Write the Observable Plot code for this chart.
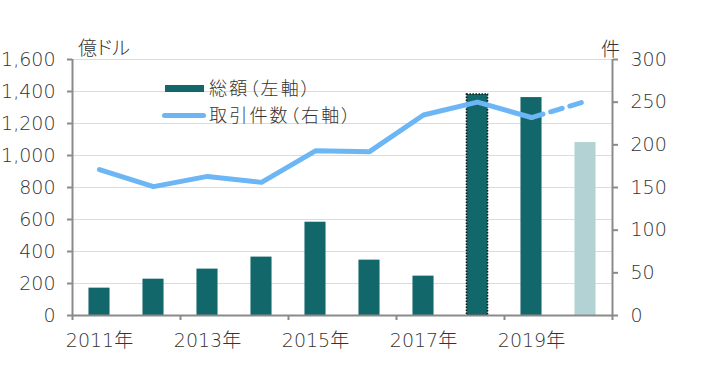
<!DOCTYPE html>
<html><head><meta charset="utf-8">
<script src="https://cdn.jsdelivr.net/npm/d3@7"></script>
<script src="https://cdn.jsdelivr.net/npm/@observablehq/plot@0.6"></script>
<style>
body{margin:0;background:#fff;}
#wrap{position:relative;width:722px;height:369px;font-family:"Noto Sans CJK JP","Noto Sans",sans-serif;color:#333;}
.lbl{position:absolute;font-size:19px;line-height:19px;white-space:nowrap;font-weight:300;font-feature-settings:"palt";}
.leg{position:absolute;font-size:18px;line-height:18px;white-space:nowrap;font-weight:300;font-feature-settings:"palt";letter-spacing:2.2px;}
.sw{position:absolute;}
</style></head><body><div id="wrap"></div>
<script>
const years = [2011, 2012, 2013, 2014, 2015, 2016, 2017, 2018, 2019, 2020];
const totals = [171, 227, 290, 365, 583, 346, 246, 1381, 1362, 1081];
const deals = [171, 151, 163, 156, 193, 192, 235, 250, 232, 251];
const leftTicks = [0, 200, 400, 600, 800, 1000, 1200, 1400, 1600];
const rightTicks = [0, 50, 100, 150, 200, 250, 300];
const labelYears = [2011, 2013, 2015, 2017, 2019];
const boundaryYears = [2010.5, 2012.5, 2014.5, 2016.5, 2018.5, 2020.5];
const highlightYear = 2018;   // dotted outline
const estimateYear = 2020;    // light bar, dashed line segment

const teal = "#12676b", light = "#b3d2d4", blue = "#6cb6f6", axisGray = "#8a8a8a";
const k = 1600 / 300;
const data = years.map((year, i) => ({year, total: totals[i], deals: deals[i]}));
const solid = data.filter(d => d.year < estimateYear);
const dashed = data.filter(d => d.year >= estimateYear - 1);
const fontFam = '"DejaVu Sans","Noto Sans CJK JP",sans-serif';

const chart = Plot.plot({
  width: 722, height: 369,
  marginLeft: 72, marginRight: 110, marginTop: 59, marginBottom: 54,
  style: {fontFamily: fontFam, fontSize: "19px", color: "#333", background: "transparent", fontWeight: 300},
  x: {domain: [2010.5, 2020.5]},
  y: {domain: [0, 1600]},
  marks: [
    Plot.gridY(leftTicks, {stroke: "#dcdcdc", strokeOpacity: 1, strokeWidth: 1}),
    Plot.rectY(data, {x1: d => d.year - 0.195, x2: d => d.year + 0.195, y: "total",
      fill: d => d.year === estimateYear ? light : teal}),
    Plot.rectY(data.filter(d => d.year === highlightYear), {x1: d => d.year - 0.195, x2: d => d.year + 0.195, y: "total",
      fill: "none", stroke: "#111", strokeWidth: 1.5, strokeDasharray: "1.5,1.5"}),
    Plot.line(solid, {x: "year", y: d => d.deals * k, stroke: blue, strokeWidth: 5, strokeLinejoin: "round"}),
    Plot.line(dashed, {x: "year", y: d => d.deals * k, stroke: blue, strokeWidth: 5, strokeDasharray: "12,8", strokeLinecap: "round"}),
    Plot.ruleY([0], {stroke: axisGray, strokeWidth: 2}),
    Plot.ruleX([boundaryYears[0], boundaryYears[boundaryYears.length - 1]], {stroke: axisGray, strokeWidth: 2}),
    Plot.axisY({ticks: leftTicks, tickFormat: d3.format(","), tickSize: 5, tickPadding: 12, stroke: axisGray, strokeWidth: 2, fill: "#333", label: null}),
    Plot.axisY({anchor: "right", ticks: rightTicks.map(v => v * k), tickFormat: v => String(Math.round(v / k)), tickSize: 5, tickPadding: 13, stroke: axisGray, strokeWidth: 2, fill: "#333", label: null}),
    Plot.axisX({ticks: boundaryYears, tickFormat: () => "", tickSize: 5, stroke: axisGray, strokeWidth: 2, label: null}),
    Plot.axisX({ticks: labelYears, tickSize: 0, tickPadding: 18, tickFormat: d => d + "年", fill: "#333", label: null})
  ]
});
const wrap = document.getElementById("wrap");
wrap.appendChild(chart);

function addLabel(text, left, top, cls) {
  const el = document.createElement("div");
  el.className = cls; el.textContent = text;
  el.style.left = left + "px"; el.style.top = top + "px";
  wrap.appendChild(el);
}
function addSwatch(left, top, w, h, color, radius) {
  const el = document.createElement("div");
  el.className = "sw";
  Object.assign(el.style, {left: left + "px", top: top + "px", width: w + "px", height: h + "px", background: color, borderRadius: radius + "px"});
  wrap.appendChild(el);
}
addLabel("億ドル", 78, 37, "lbl");
addLabel("件", 601, 38, "lbl");
addSwatch(165, 85, 39, 7, teal, 0);
addLabel("総額（左軸）", 209, 78, "leg");
addSwatch(162, 113, 44, 5, blue, 3);
addLabel("取引件数（右軸）", 209, 104.5, "leg");
</script></body></html>
